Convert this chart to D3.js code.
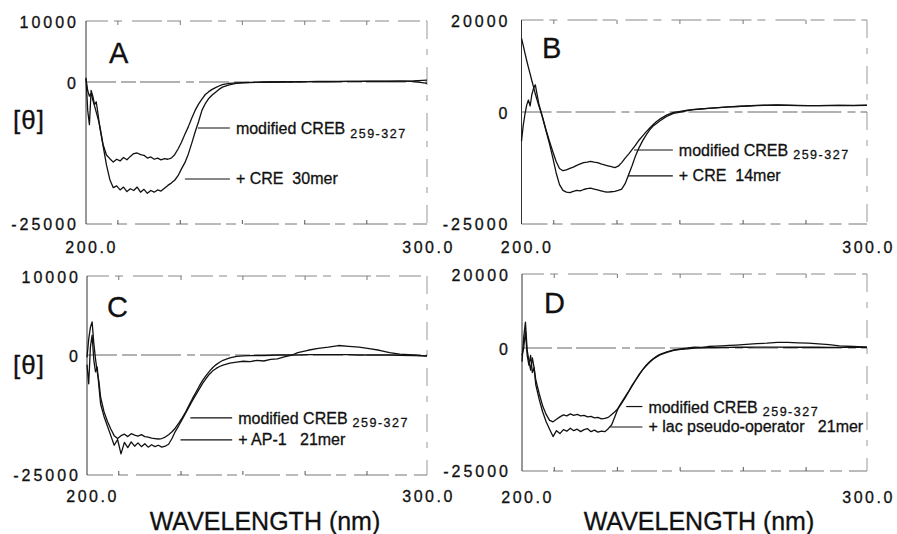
<!DOCTYPE html>
<html><head><meta charset="utf-8">
<script src="https://cdn.jsdelivr.net/npm/d3@7"></script>
<style>
body{margin:0;background:#fff;}
svg text{font-family:"Liberation Sans",Arial,Helvetica,sans-serif;fill:#111;white-space:pre;stroke:#111;stroke-width:0.3px;}
</style></head><body>
<svg id="chart" width="897" height="534"></svg>
<script>
// ---------------- DATA ----------------
const wavelengths = [200,200.5,201,201.5,202,202.5,203,203.5,
  204,205,206,207,208,209,210,211,212,213,214,215,
  216,217,218,219,220,221,222,223,224,225,226,227,
  228,229,230,231,232,233,234,235,236,237,238,239,240,
  242,244,246,248,250,252,254,256,258,260,
  262,265,268,271,274,277,280,283,286,289,292,296,300];

// Panel A
const crebA = [500,-1500,-2500,-2000,-3200,-4200,-5300,-6400,
  -7600,-11000,-12850,-13500,-14100,-13600,-13900,-13300,-13700,-13100,-12600,-12500,
  -12800,-12900,-13400,-13200,-13600,-13400,-13700,-13500,-13600,-13400,-12800,-11800,
  -10600,-9200,-7900,-6400,-5000,-3900,-3000,-2200,-1700,-1300,-1000,-700,-450,
  -250,-150,-100,-50,-50,0,0,0,50,0,
  50,50,100,50,100,100,100,150,100,150,150,100,-250];
const cre30A = [700,-5000,-7500,-1500,-2500,-4000,-3500,-5500,
  -7800,-11200,-14600,-17200,-18600,-18300,-19000,-18500,-19300,-18800,-19100,-18500,
  -19400,-18900,-19600,-19100,-19400,-19000,-19200,-18700,-18200,-17800,-17300,-16500,
  -15300,-14200,-12700,-10800,-8800,-7000,-5000,-3800,-2900,-2300,-1800,-1300,-900,
  -500,-250,-150,-100,-50,-50,0,0,0,50,
  0,50,50,100,50,100,100,100,150,100,150,200,300];

// Panel B
const crebB = [16000,14500,12800,11200,9700,8300,6800,5400,
  3900,1400,-900,-3700,-6300,-8700,-11000,-12600,-13100,-12900,-12600,-12300,
  -11900,-11600,-11300,-11200,-11000,-11200,-11300,-11600,-11800,-12000,-12200,-12400,
  -12100,-11300,-10300,-9400,-8400,-7400,-6300,-5400,-4500,-3700,-2900,-2200,-1600,
  -700,-100,150,400,550,700,800,900,1000,1100,
  1150,1300,1400,1450,1500,1450,1400,1400,1400,1450,1450,1450,1500];
const cre14B = [-6500,-3000,-500,1500,2600,1300,3800,5200,
  5900,1800,-1000,-3900,-6800,-10000,-13500,-16200,-17500,-17900,-18000,-17700,
  -17500,-17600,-17300,-17100,-17000,-17200,-17400,-17600,-17800,-17900,-17800,-17700,
  -17500,-17200,-16000,-14000,-12000,-9800,-8000,-6500,-5200,-4100,-3200,-2600,-2000,
  -1000,-300,0,300,500,650,800,900,1000,1100,
  1200,1300,1450,1500,1550,1500,1450,1400,1400,1400,1450,1400,1450];

// Panel C
const crebC = [-500,2000,3500,4200,1500,-800,-3500,-5500,
  -8800,-11800,-13800,-15400,-16800,-17400,-16800,-16500,-17000,-16400,-16700,-16900,
  -16600,-17000,-17100,-17300,-17400,-17500,-17400,-17100,-16600,-16000,-15200,-14200,
  -13100,-11900,-10500,-9100,-7800,-6500,-5300,-4300,-3400,-2600,-2000,-1500,-1100,
  -600,-300,-200,-150,-100,-100,-50,0,0,0,
  0,50,50,50,50,50,0,0,0,0,-50,-100,-200];
const ap1C = [-2000,-6000,1000,2500,-1000,-3500,-2500,-6500,
  -10200,-12800,-14800,-16800,-18800,-17600,-20600,-18200,-19300,-18100,-19000,-18300,
  -19100,-18500,-19200,-18700,-19100,-18800,-19200,-19000,-18600,-17400,-15900,-14700,
  -13400,-12100,-10800,-9500,-8300,-7100,-5900,-4900,-4000,-3300,-2800,-2400,-2100,
  -1700,-1500,-1300,-1400,-1100,-1250,-900,-800,-400,-100,
  300,600,850,1000,1200,1100,1000,800,600,300,100,0,-250];

// Panel D
const crebD = [-2800,3000,7000,-500,-2500,-4500,-2000,-4000,
  -6500,-9300,-11800,-13500,-14700,-15000,-14500,-14000,-13600,-13800,-13400,-13700,
  -13500,-13800,-13700,-14000,-13900,-14200,-14100,-14400,-14300,-14100,-13500,-12900,
  -12200,-11100,-10000,-8800,-7600,-6500,-5400,-4400,-3600,-2900,-2300,-1800,-1400,
  -900,-500,-300,-150,0,50,100,100,150,150,
  200,200,250,250,250,200,200,200,200,150,150,200,200];
const lacD = [-1500,0,4500,-1500,-3500,-1500,-5000,-4000,
  -7500,-10500,-13000,-15000,-16500,-18000,-16800,-17400,-16600,-16900,-16300,-16800,
  -16500,-17000,-16600,-16400,-17000,-16700,-17100,-16900,-17000,-16400,-15600,-13800,
  -12000,-10900,-9800,-8700,-7500,-6400,-5300,-4400,-3500,-2800,-2200,-1700,-1300,
  -800,-400,-200,0,200,150,400,500,600,700,
  800,1000,1200,1300,1500,1500,1400,1300,1100,900,600,400,200];

const panelLetters = ["A","B","C","D"];
const yDomainSmall = [-25000, 0, 10000];
const yDomainLarge = [-25000, 0, 20000];
const yTicksSmall = [10000, 0, -25000];
const yTicksLarge = [20000, 0, -25000];
const xDomain = [200, 300];
const xTickLabels = [200, 300];
const xMinorTicks = [209.2, 227.5, 245.7, 264, 282.2];
const labelsA = ["modified CREB", "+ CRE  30mer"];
const labelsB = ["modified CREB", "+ CRE  14mer"];
const labelsC = ["modified CREB", "+ AP-1   21mer"];
const labelsD = ["modified CREB", "+ lac pseudo-operator   21mer"];
const subscript = "259-327";
const yAxisLabel = "[θ]";
const xAxisTitle = "WAVELENGTH (nm)";

// ---------------- LAYOUT ----------------
const panels = [
  {letter:panelLetters[0], x0:86, x1:427, yRange:[224,82,21], yDomain:yDomainSmall, yTicks:yTicksSmall,
   series:[crebA, cre30A], labels:labelsA, tickPad:10, xLabelY:253,
   ann:[{w1:232.8,w2:242.2,v:-8100},{w1:229,w2:242.2,v:-17080}],
   letterPos:[109,63], theta:[13,129]},
  {letter:panelLetters[1], x0:521.5, x1:867, yRange:[224,112,20], yDomain:yDomainLarge, yTicks:yTicksLarge,
   series:[crebB, cre14B], labels:labelsB, tickPad:14, xLabelY:253,
   ann:[{w1:232.6,w2:243.8,v:-8480},{w1:230.8,w2:243.8,v:-14280}],
   letterPos:[542,58]},
  {letter:panelLetters[2], x0:87, x1:427, yRange:[475,355,276], yDomain:yDomainSmall, yTicks:yTicksSmall,
   series:[crebC, ap1C], labels:labelsC, tickPad:9, xLabelY:502,
   ann:[{w1:230.4,w2:242.7,v:-13100},{w1:227.5,w2:242.7,v:-17700}],
   letterPos:[107,317], theta:[13,374], title:265},
  {letter:panelLetters[3], x0:522, x1:867, yRange:[471,348,274], yDomain:yDomainLarge, yTicks:yTicksLarge,
   series:[crebD, lacD], labels:labelsD, tickPad:14, xLabelY:503,
   ann:[{w1:230.2,w2:234.9,v:-11900},{w1:225.6,w2:234.9,v:-16060}],
   letterPos:[544,313], title:699}
];

const svg = d3.select("#chart");

panels.forEach(p => {
  const x = d3.scaleLinear().domain(xDomain).range([p.x0, p.x1]);
  const y = d3.scaleLinear().domain(p.yDomain).range(p.yRange);
  const g = svg.append("g");
  const top = y(p.yDomain[2]), bot = y(p.yDomain[0]);

  // frame: broken, photocopied look
  g.append("line").attr("x1",p.x0).attr("x2",p.x1).attr("y1",top).attr("y2",top)
    .attr("stroke","#888").attr("stroke-width",1).attr("stroke-dasharray","22,6,8,10,30,5,14,9");
  g.append("line").attr("x1",p.x0).attr("x2",p.x1).attr("y1",bot).attr("y2",bot)
    .attr("stroke","#777").attr("stroke-width",1).attr("stroke-dasharray","26,5,10,8,35,6,12,7");
  g.append("line").attr("x1",p.x1).attr("x2",p.x1).attr("y1",top).attr("y2",bot)
    .attr("stroke","#999").attr("stroke-width",1).attr("stroke-dasharray","18,10,6,12");
  g.append("line").attr("x1",p.x0).attr("x2",p.x0).attr("y1",top).attr("y2",bot)
    .attr("stroke","#333").attr("stroke-width",1);

  // inward minor ticks
  const tb = g.append("g").attr("transform",`translate(0,${bot})`)
    .call(d3.axisTop(x).tickValues(xMinorTicks).tickSize(4).tickFormat(""));
  tb.select(".domain").remove();
  tb.selectAll("line").attr("stroke","#555");
  const tt = g.append("g").attr("transform",`translate(0,${top})`)
    .call(d3.axisBottom(x).tickValues(xMinorTicks).tickSize(4).tickFormat(""));
  tt.select(".domain").remove();
  tt.selectAll("line").attr("stroke","#777");

  // zero line
  g.append("line").attr("x1",p.x0).attr("x2",p.x1).attr("y1",y(0)).attr("y2",y(0))
    .attr("stroke","#555").attr("stroke-width",0.9).attr("stroke-dasharray","30,5,15,4,40,6,8,5");

  // y tick labels
  const ya = g.append("g").attr("transform",`translate(${p.x0},0)`)
    .call(d3.axisLeft(y).tickValues(p.yTicks).tickSize(0).tickPadding(p.tickPad - 3).tickFormat(d => String(d)));
  ya.select(".domain").remove();
  ya.selectAll("text").style("font-size","16px").style("letter-spacing","3px")
    .attr("font-family",null).attr("fill","#111")
    .attr("dy", d => d === p.yDomain[2] ? "0.42em" : (d === 0 ? "0.4em" : "0.36em"));

  // x tick labels
  const xa = g.append("g").attr("transform",`translate(0,${bot})`)
    .call(d3.axisBottom(x).tickValues(xTickLabels).tickSize(0).tickFormat(d3.format(".1f")));
  xa.select(".domain").remove();
  xa.selectAll("text").style("font-size","16px").style("letter-spacing","2.5px")
    .attr("font-family",null).attr("fill","#111")
    .attr("y", p.xLabelY - bot).attr("dy",0)
    .attr("dx", d => d === 200 ? 5 : 1);

  // curves
  const line = d3.line().x((d,i) => x(wavelengths[i])).y(d => y(d));
  p.series.forEach(s => {
    g.append("path").datum(s).attr("d", line).attr("fill","none")
      .attr("stroke","#111").attr("stroke-width",1.3).attr("stroke-linejoin","round");
  });

  // series annotations
  p.ann.forEach((a, i) => {
    const yy = y(a.v);
    g.append("line").attr("x1",x(a.w1)).attr("x2",x(a.w2)).attr("y1",yy).attr("y2",yy)
      .attr("stroke","#111").attr("stroke-width",1.2);
    const t = g.append("text").attr("x", x(a.w2) + 6).attr("y", yy + (i === 0 ? 6 : 5))
      .style("font-size","16px");
    t.append("tspan").text(p.labels[i]);
    if (i === 0) {
      t.append("tspan").attr("dx",5).attr("dy",3.5).style("font-size","12.5px")
        .style("letter-spacing","1.5px").text(subscript);
    }
  });

  // panel letter
  g.append("text").attr("x",p.letterPos[0]).attr("y",p.letterPos[1])
    .style("font-size","29px").text(p.letter);

  if (p.theta) {
    g.append("text").attr("x",p.theta[0]).attr("y",p.theta[1])
      .style("font-size","26px").style("letter-spacing","1px").text(yAxisLabel);
  }
  if (p.title) {
    g.append("text").attr("x",p.title).attr("y",530).attr("text-anchor","middle")
      .style("font-size","25px").text(xAxisTitle);
  }
});
</script>
</body></html>
